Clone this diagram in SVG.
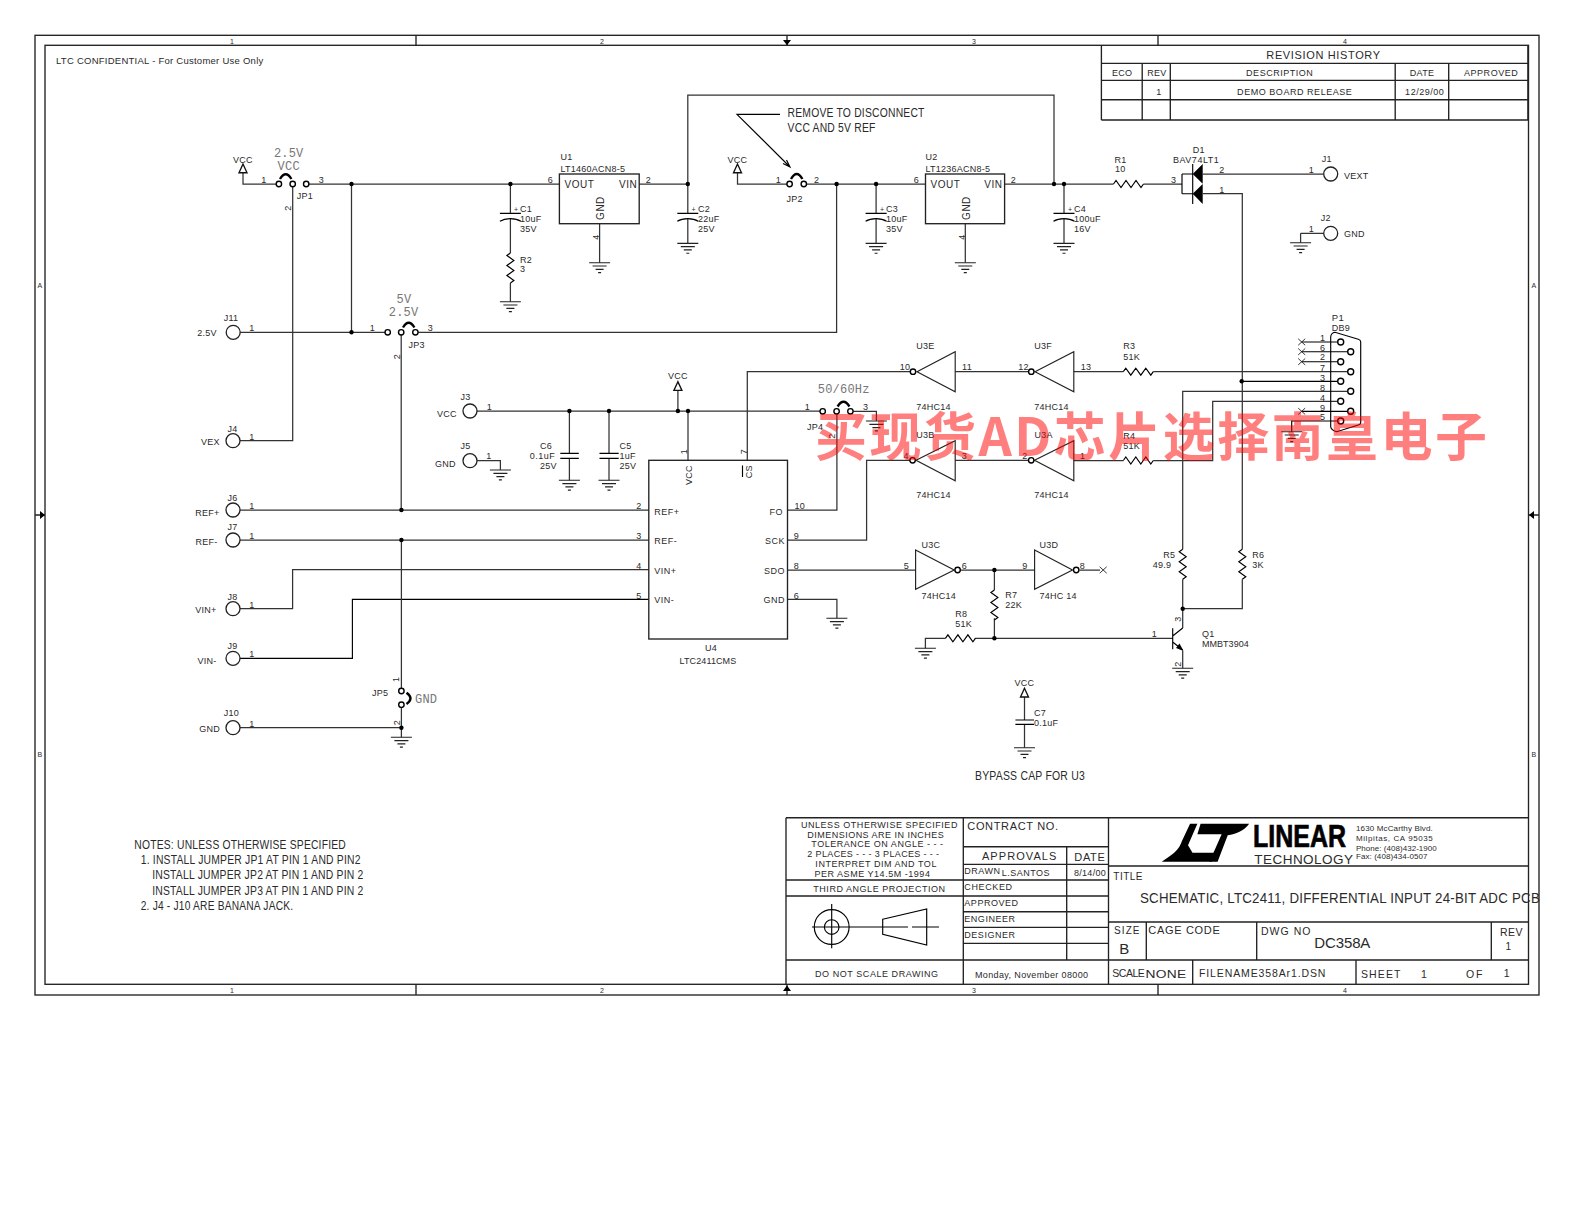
<svg xmlns="http://www.w3.org/2000/svg" xmlns:xlink="http://www.w3.org/1999/xlink" width="1584" height="1224" viewBox="0 0 1584 1224">
<style>
text{font-family:"Liberation Sans",Arial,sans-serif;font-size:9px;fill:#2a2a2a;letter-spacing:.25px}
.m{text-anchor:middle}
.e{text-anchor:end}
.w,.b{fill:none;stroke:#333;stroke-width:1.25}
.b{stroke:#222;stroke-width:1.35}
.g{fill:none;stroke:#222;stroke-width:1.15}
.k{fill:none;stroke:#000;stroke-width:1.15}
.x{fill:none;stroke:#222;stroke-width:.9}
.pc{fill:#fff;stroke:#000;stroke-width:1.4}
.jc{fill:#fff;stroke:#222;stroke-width:1.3}
.d{fill:#000}
.j{fill:none;stroke:#000;stroke-width:2.4}
.mono{font-family:"Liberation Mono","DejaVu Sans Mono",monospace;font-size:12px;fill:#777;letter-spacing:.2px}
.s8{font-size:7px}
.s10{font-size:10px;letter-spacing:.5px}
.s11{font-size:11px;letter-spacing:.6px}
.v{fill:#fff;stroke:#111;stroke-width:1.35}
.wm{font-family:"Noto Sans CJK SC","Liberation Sans",sans-serif;font-size:52px;font-weight:700;fill:#ff0000;fill-opacity:.5;letter-spacing:0}
</style>
<defs>
<g id="gnd"><path class="g" d="M-10.5 0H10.5M-7 3.3H7M-4 6.6H4M-1.5 9.9H1.5"/></g>
<g id="vcc"><path class="v" d="M0 0L-4 8.7H4Z"/></g>
<path id="rh" class="k" d="M0 0l2.5-3.5 5 7 5-7 5 7 5-7 5 7 2.5-3.5"/>
<path id="rv" class="k" d="M0 0l-3.5 2.5 7 5-7 5 7 5-7 5 7 5-3.5 2.5"/>
<path id="nc" class="x" d="M-3.5-3.2L3.5 3.2M-3.5 3.2L3.5-3.2"/>
<path id="pcap" class="k" d="M-10.5 0H10.5M-10.5 8C-5 4.5 5 4.5 10.5 8"/>
</defs>

<g id="frame">
<rect class="b" x="35" y="35.3" width="1504" height="959.7"/>
<rect class="b" x="45" y="45.3" width="1483.5" height="939"/>
<path class="b" d="M416 35.3V45.3M787 35.3V45.3M1158 35.3V45.3M416 984.3V995M787 984.3V995M1158 984.3V995M35 515H45M1528.5 515H1539"/>
<path class="d" d="M783 40L791 40L787 45.3ZM783 991L791 991L787 985.5ZM40 511L40 519L45 515ZM1534 511L1534 519L1529 515Z"/>
<text class="s8 m" x="232" y="43.5">1</text><text class="s8 m" x="602" y="43.5">2</text><text class="s8 m" x="974" y="43.5">3</text><text class="s8 m" x="1345" y="43.5">4</text>
<text class="s8 m" x="232" y="993">1</text><text class="s8 m" x="602" y="993">2</text><text class="s8 m" x="974" y="993">3</text><text class="s8 m" x="1345" y="993">4</text>
<text class="s8 m" x="40" y="288">A</text><text class="s8 m" x="40" y="757">B</text><text class="s8 m" x="1534" y="288">A</text><text class="s8 m" x="1534" y="757">B</text>
<text x="56" y="64" textLength="207.5" style="font-size:9.5px">LTC CONFIDENTIAL - For Customer Use Only</text>
</g>

<g id="revision-history">
<path class="b" d="M1101.4 45.3V120M1142.2 63.3V120M1170.3 63.3V120M1395.2 63.3V120M1448.7 63.3V120M1527.9 45.3V120M1101.4 63.3H1527.9M1101.4 80.3H1527.9M1101.4 99.7H1527.9M1101.4 120H1527.9"/>
<text class="m" x="1323.3" y="59.3" textLength="114" style="font-size:11px">REVISION HISTORY</text>
<text class="m" x="1122.2" y="76">ECO</text><text class="m" x="1157" y="76">REV</text><text class="m" x="1279.6" y="76" textLength="67">DESCRIPTION</text><text class="m" x="1422" y="76">DATE</text><text class="m" x="1491" y="76" textLength="54">APPROVED</text>
<text class="m" x="1159" y="94.7">1</text><text class="m" x="1294.6" y="94.7" textLength="115">DEMO BOARD RELEASE</text><text class="m" x="1424.6" y="94.7" textLength="39">12/29/00</text>
</g>

<g id="connectors">
<path class="w" d="M243 172.7V184H276.5M309 184H559.4M292.7 186.5V440.7H240M351.5 184V332.3M240 332.3H385M418.2 332.3H836.6V184M401.2 335V510"/>
<path class="w" d="M510.4 184V213.3M510.4 219V253M510.4 283V301.7M599.6 223.7V262.7M639.2 184H687.8M687.8 184V213.3M687.8 219V243.3"/>
<path class="w" d="M687.8 184V95H1054V184"/>
<path class="w" d="M737.5 172.7V184H787M806.5 184H925.5M876.1 184V213.3M876.1 219V243.3M965.3 223.7V262.7M1004.6 184H1113.5M1143.5 184H1182M1064 184V213.3M1064 219V243.3"/>
<path class="w" d="M1202.7 174H1323.7M1202.7 193.7H1242.3V549.3M1242.3 579.3V608.7H1182.7M1300.6 233.3H1323.7M1300.6 233.3V242.7"/>
<path class="w" d="M477 411H820M569.4 411V453.3M569.4 458.3V480.3M609 411V453.3M609 458.3V480.3M677.9 411V390M688 411V460.3M853 411.3H876.4V421M477 460.7H500.4V470"/>
<path class="w" d="M747.3 460.3V371.7H910M955.2 371.7H1028M1073.8 371.7H1123.3M1153.3 371.7H1347.7"/>
<path class="k" d="M1241.7 381.3H1337.7"/>
<path class="w" d="M1347.7 391.3H1182.7V549.3M1182.7 579.3V628M1337.7 401.3H1212.7V460.5H1153.3M1123.3 460.5H1073.8M1028 460.3H955.2M910 460.3H866.6V540H787.5"/>
<path class="w" d="M787.5 510H836.9V414M787.5 570H915.6M961 570H1034.6M1079.5 570H1100M787.5 599.3H836.9V618.3"/>
<path class="w" d="M994.4 570V590M994.4 618.3V638.3M925.4 648.3V638.3H945.4M974.8 638.3H1172.7M1182.7 651V668.3"/>
<path class="w" d="M240 510H648.8M240 540H648.8M240 608.7H292.6V569.7H648.8"/>
<path class="k" d="M240 658.3H352.4V599.3H648.8"/>
<path class="w" d="M401.4 540V688M401.4 707.7V737.3M240 727.7H401.4"/>
<path class="w" d="M1024.5 696.7V720M1024.5 724.3V747.7"/>
<path class="k" d="M1301.5 342H1337.7M1301.5 351.7H1347.7M1301.5 361.7H1337.7M1301.5 411.3H1347.7M1291.7 431.7V421H1337.7"/>
<g class="d">
<circle cx="351.5" cy="184" r="2.2"/><circle cx="510.4" cy="184" r="2.2"/><circle cx="687.8" cy="184" r="2.2"/><circle cx="836.6" cy="184" r="2.2"/><circle cx="876.1" cy="184" r="2.2"/><circle cx="1054" cy="184" r="2.2"/><circle cx="1064" cy="184" r="2.2"/>
<circle cx="351.5" cy="332.3" r="2.2"/><circle cx="401.4" cy="510" r="2.2"/><circle cx="401.4" cy="540" r="2.2"/><circle cx="401.4" cy="727.7" r="2.2"/>
<circle cx="569.4" cy="411" r="2.2"/><circle cx="609" cy="411" r="2.2"/><circle cx="677.9" cy="411" r="2.2"/><circle cx="688" cy="411" r="2.2"/>
<circle cx="1241.7" cy="381.3" r="2.2"/><circle cx="994.4" cy="570" r="2.2"/><circle cx="994.4" cy="638.3" r="2.2"/><circle cx="1182.7" cy="608.7" r="2.2"/>
</g>
</g>

<g id="VCC1"><use xlink:href="#vcc" href="#vcc" x="243" y="164"/><text class="m" x="243" y="163">VCC</text></g>
<g id="JP1"><circle class="pc" cx="278.9" cy="184" r="2.7"/><circle class="pc" cx="292.7" cy="184" r="2.7"/><circle class="pc" cx="306.2" cy="184" r="2.7"/><path class="j" d="M280 179Q285.7 169.5 291.4 179"/>
<text class="mono m" x="288.7" y="156.7">2.5V</text><text class="mono m" x="288.7" y="169.7">VCC</text><text x="296.8" y="199">JP1</text><text class="m" x="264" y="183">1</text><text class="m" x="321.4" y="183">3</text><text class="m" transform="rotate(-90 291 208)" x="291" y="208">2</text></g>
<g id="JP3"><circle class="pc" cx="387.7" cy="332.3" r="2.7"/><circle class="pc" cx="401.2" cy="332.3" r="2.7"/><circle class="pc" cx="415.4" cy="332.3" r="2.7"/><path class="j" d="M403 327.5Q408.7 318 414.4 327.5"/>
<text class="mono m" x="404" y="302.7">5V</text><text class="mono m" x="403.6" y="316">2.5V</text><text x="408.6" y="348">JP3</text><text class="m" x="372.5" y="331">1</text><text class="m" x="430.3" y="331">3</text><text class="m" transform="rotate(-90 400 356.7)" x="400" y="356.7">2</text></g>

<g id="C1"><use xlink:href="#pcap" href="#pcap" x="510.4" y="213.3"/><text class="s8" x="514" y="212">+</text><text x="520" y="211.7">C1</text><text x="520" y="221.7">10uF</text><text x="520" y="231.7">35V</text></g>
<g id="R2"><use xlink:href="#rv" href="#rv" x="510.4" y="253"/><text x="520" y="263">R2</text><text x="520" y="272">3</text><use xlink:href="#gnd" href="#gnd" x="510.4" y="301.7"/></g>
<g id="U1"><rect class="b" x="559.4" y="174" width="79.8" height="49.7"/><text x="560.4" y="160">U1</text><text x="560.4" y="172">LT1460ACN8-5</text><text x="564.5" y="188" class="s10">VOUT</text><text x="619" y="188" class="s10">VIN</text><text class="m s10" transform="rotate(-90 603.5 208)" x="603.5" y="208">GND</text><text class="m" x="550.3" y="183">6</text><text class="m" x="648.3" y="183">2</text><text class="m" transform="rotate(-90 599 237)" x="599" y="237">4</text><use xlink:href="#gnd" href="#gnd" x="599.6" y="262.7"/></g>
<g id="C2"><use xlink:href="#pcap" href="#pcap" x="687.8" y="213.3"/><text class="s8" x="691.5" y="212">+</text><text x="698" y="211.7">C2</text><text x="698" y="221.7">22uF</text><text x="698" y="231.7">25V</text><use xlink:href="#gnd" href="#gnd" x="687.8" y="243.3"/></g>
<g id="note-jp2"><path class="k" d="M780 114.3H737L790 167M783 163.5L790 167L786.5 160"/><text x="787.6" y="116.7" textLength="137" lengthAdjust="spacingAndGlyphs" style="font-size:12.5px">REMOVE TO DISCONNECT</text><text x="787.6" y="131.7" textLength="88" lengthAdjust="spacingAndGlyphs" style="font-size:12.5px">VCC AND 5V REF</text></g>
<g id="VCC2"><use xlink:href="#vcc" href="#vcc" x="737.5" y="164"/><text class="m" x="737.5" y="162.7">VCC</text></g>
<g id="JP2"><circle class="pc" cx="789.6" cy="184" r="2.7"/><circle class="pc" cx="803.8" cy="184" r="2.7"/><path class="j" d="M791 179Q796.7 169 802.4 179"/><text x="786.5" y="201.7">JP2</text><text class="m" x="778.4" y="183">1</text><text class="m" x="816.6" y="183">2</text></g>
<g id="C3"><use xlink:href="#pcap" href="#pcap" x="876.1" y="213.3"/><text class="s8" x="880" y="212">+</text><text x="886" y="211.7">C3</text><text x="886" y="221.7">10uF</text><text x="886" y="231.7">35V</text><use xlink:href="#gnd" href="#gnd" x="876.1" y="243.3"/></g>
<g id="U2"><rect class="b" x="925.5" y="174" width="79.1" height="49.7"/><text x="925.5" y="160">U2</text><text x="925.5" y="172">LT1236ACN8-5</text><text x="930.5" y="188" class="s10">VOUT</text><text x="984.3" y="188" class="s10">VIN</text><text class="m s10" transform="rotate(-90 970 208)" x="970" y="208">GND</text><text class="m" x="916.3" y="183">6</text><text class="m" x="1013.3" y="183">2</text><text class="m" transform="rotate(-90 964.5 237)" x="964.5" y="237">4</text><use xlink:href="#gnd" href="#gnd" x="965.3" y="262.7"/></g>
<g id="C4"><use xlink:href="#pcap" href="#pcap" x="1064" y="213.3"/><text class="s8" x="1068" y="212">+</text><text x="1074" y="211.7">C4</text><text x="1074" y="221.7">100uF</text><text x="1074" y="231.7">16V</text><use xlink:href="#gnd" href="#gnd" x="1064" y="243.3"/></g>
<g id="R1"><use xlink:href="#rh" href="#rh" x="1113.5" y="184"/><text x="1114.5" y="162.7">R1</text><text x="1115" y="172">10</text></g>
<g id="D1"><path class="k" d="M1182 174V193.7M1182 174H1193M1182 193.7H1193M1192.7 164V204"/><path d="M1192.7 174L1202.7 164V183.7ZM1192.7 193.7L1202.7 184V204Z"/><text class="m" x="1198.7" y="152.7">D1</text><text x="1173" y="162.7" textLength="46">BAV74LT1</text><text class="m" x="1173.6" y="183">3</text><text class="m" x="1221.8" y="173">2</text><text class="m" x="1221.8" y="193">1</text></g>
<g id="J1"><circle class="jc" cx="1330.7" cy="174" r="7"/><text class="m" x="1326.7" y="161.7">J1</text><text x="1344" y="178.7">VEXT</text><text class="m" x="1311.3" y="173">1</text></g>
<g id="J2"><circle class="jc" cx="1330.7" cy="233.3" r="7"/><text class="m" x="1325.7" y="220.7">J2</text><text x="1344" y="236.7">GND</text><text class="m" x="1311.3" y="232">1</text><use xlink:href="#gnd" href="#gnd" x="1300.6" y="242.7"/></g>

<g id="J11"><circle class="jc" cx="233.2" cy="332.3" r="7"/><text class="m" x="231" y="320.7">J11</text><text class="m" x="207" y="335.7">2.5V</text><text class="m" x="252" y="331">1</text></g>
<g id="J4"><circle class="jc" cx="233" cy="440.7" r="7"/><text class="m" x="232.4" y="432">J4</text><text class="m" x="210.4" y="445">VEX</text><text class="m" x="252" y="440">1</text></g>
<g id="J6"><circle class="jc" cx="233" cy="510" r="7"/><text class="m" x="232.4" y="500.7">J6</text><text class="m" x="207.4" y="515.7">REF+</text><text class="m" x="252" y="509">1</text></g>
<g id="J7"><circle class="jc" cx="233" cy="540" r="7"/><text class="m" x="232.4" y="530">J7</text><text class="m" x="206.4" y="545">REF-</text><text class="m" x="252" y="539">1</text></g>
<g id="J8"><circle class="jc" cx="233" cy="608.7" r="7"/><text class="m" x="232.4" y="600">J8</text><text class="m" x="206" y="612.7">VIN+</text><text class="m" x="252" y="608">1</text></g>
<g id="J9"><circle class="jc" cx="233" cy="658.3" r="7"/><text class="m" x="232.4" y="649">J9</text><text class="m" x="207" y="664">VIN-</text><text class="m" x="252" y="657">1</text></g>
<g id="J10"><circle class="jc" cx="233" cy="727.7" r="7"/><text class="m" x="231.4" y="716">J10</text><text class="m" x="209.7" y="731.7">GND</text><text class="m" x="252" y="727">1</text></g>
<g id="JP5"><circle class="pc" cx="401.4" cy="691" r="2.7"/><circle class="pc" cx="401.4" cy="704.7" r="2.7"/><path class="j" d="M406.5 692.7Q414.5 698.3 406.5 704"/><text x="372" y="695.7">JP5</text><text class="mono" x="415" y="702.7">GND</text><text class="m" transform="rotate(-90 399 679.3)" x="399" y="679.3">1</text><text class="m" transform="rotate(-90 400 722.7)" x="400" y="722.7">2</text><use xlink:href="#gnd" href="#gnd" x="401.4" y="737.3"/></g>

<g id="J3"><circle class="jc" cx="470" cy="411" r="7"/><text class="m" x="465.6" y="400">J3</text><text class="m" x="447" y="416.7">VCC</text><text class="m" x="489.3" y="410">1</text></g>
<g id="J5"><circle class="jc" cx="470" cy="460.7" r="7"/><text class="m" x="465.6" y="449.3">J5</text><text class="m" x="445.3" y="466.7">GND</text><text class="m" x="489" y="459">1</text><use xlink:href="#gnd" href="#gnd" x="500.4" y="470"/></g>
<g id="C6"><path class="k" d="M560.3 453.3H578.8M560.3 458.3H578.8"/><text class="m" x="546" y="448.7">C6</text><text x="529.8" y="458.7" class="s10" style="font-size:9px">0.1uF</text><text x="540" y="468.7">25V</text><use xlink:href="#gnd" href="#gnd" x="569.4" y="480.3"/></g>
<g id="C5"><path class="k" d="M599.5 453.3H618.7M599.5 458.3H618.7"/><text x="619.4" y="448.7">C5</text><text x="619.4" y="458.7">1uF</text><text x="619.4" y="468.7">25V</text><use xlink:href="#gnd" href="#gnd" x="609" y="480.3"/></g>
<g id="VCC3"><use xlink:href="#vcc" href="#vcc" x="677.9" y="381.7"/><text class="m" x="677.9" y="379.3">VCC</text></g>
<g id="U4"><rect class="b" x="648.8" y="460.3" width="138.7" height="178.7"/>
<text class="m" x="711" y="651">U4</text><text class="m" x="708" y="664" textLength="57">LTC2411CMS</text>
<text x="654.2" y="515" class="s10" style="font-size:9px">REF+</text><text x="654.2" y="544" class="s10" style="font-size:9px">REF-</text><text x="654.2" y="574" class="s10" style="font-size:9px">VIN+</text><text x="654.2" y="603.3" class="s10" style="font-size:9px">VIN-</text>
<text class="e s10" style="font-size:9px" x="783" y="515">FO</text><text class="e s10" style="font-size:9px" x="785" y="544">SCK</text><text class="e s10" style="font-size:9px" x="785" y="574">SDO</text><text class="e s10" style="font-size:9px" x="785" y="603">GND</text>
<text class="m" transform="rotate(-90 692 475)" x="692" y="475">VCC</text><text class="m" transform="rotate(-90 752 471.7)" x="752" y="471.7">CS</text><path class="k" d="M742.5 465.5V477"/>
<text class="m" transform="rotate(-90 687 451.7)" x="687" y="451.7">1</text><text class="m" transform="rotate(-90 747 451.7)" x="747" y="451.7">7</text>
<text class="m" x="639" y="509">2</text><text class="m" x="639" y="539">3</text><text class="m" x="639" y="569">4</text><text class="m" x="639" y="598.5">5</text>
<text x="794.6" y="509">10</text><text class="m" x="796.3" y="539">9</text><text class="m" x="796.3" y="569">8</text><text class="m" x="796.3" y="598.5">6</text></g>
<g id="GND-U4"><use xlink:href="#gnd" href="#gnd" x="836.9" y="618.3"/></g>
<g id="JP4"><circle class="pc" cx="822.7" cy="411.3" r="2.7"/><circle class="pc" cx="836.6" cy="411.3" r="2.7"/><circle class="pc" cx="850.4" cy="411.3" r="2.7"/><path class="j" d="M837.6 406.5Q843.5 397 849.4 406.5"/><text class="mono m" x="843.7" y="393.3">50/60Hz</text><text x="807" y="430">JP4</text><text class="m" x="807.5" y="410">1</text><text class="m" x="865.6" y="410">3</text><text class="m" transform="rotate(-90 835 436)" x="835" y="436">2</text><use xlink:href="#gnd" href="#gnd" x="876.4" y="421"/></g>
<g id="U3E"><path class="g" d="M917 371.7L955.2 351.7V391.7Z"/><circle class="pc" cx="913" cy="371.7" r="2.7"/><text x="916.3" y="349">U3E</text><text x="916.3" y="410">74HC14</text><text class="m" x="905" y="370">10</text><text class="m" x="967" y="370">11</text></g>
<g id="U3F"><path class="g" d="M1035 371.7L1073.8 351.7V391.7Z"/><circle class="pc" cx="1031.3" cy="371.7" r="2.7"/><text x="1034.3" y="349">U3F</text><text x="1034.3" y="410">74HC14</text><text class="m" x="1023.5" y="370">12</text><text class="m" x="1086" y="370">13</text></g>
<g id="U3B"><path class="g" d="M916 460.3L955.2 440.7V480.7Z"/><circle class="pc" cx="912.6" cy="460.3" r="2.7"/><text x="916.3" y="437.7">U3B</text><text x="916.3" y="498.3">74HC14</text><text class="m" x="906.2" y="459">4</text><text class="m" x="964.3" y="459">3</text></g>
<g id="U3A"><path class="g" d="M1034.5 460.3L1073.8 440.7V480.7Z"/><circle class="pc" cx="1031.2" cy="460.3" r="2.7"/><text x="1034.6" y="437.7">U3A</text><text x="1034.3" y="498.3">74HC14</text><text class="m" x="1025" y="459">2</text><text class="m" x="1082.6" y="459">1</text></g>
<g id="U3C"><path class="g" d="M915.6 550L954.2 570L915.6 589.3Z"/><circle class="pc" cx="957.6" cy="570" r="2.7"/><text x="921.4" y="548.3">U3C</text><text x="921.4" y="598.7">74HC14</text><text class="m" x="906.5" y="569">5</text><text class="m" x="964.3" y="569">6</text></g>
<g id="U3D"><path class="g" d="M1034.6 550L1072.5 570L1034.6 589.3Z"/><circle class="pc" cx="1076.2" cy="570" r="2.7"/><text x="1039.4" y="548.3">U3D</text><text x="1039.4" y="598.7">74HC 14</text><text class="m" x="1025" y="569">9</text><text class="m" x="1082.3" y="569">8</text><use xlink:href="#nc" href="#nc" x="1103.2" y="570"/></g>
<g id="R3"><use xlink:href="#rh" href="#rh" x="1123.3" y="371.7"/><text x="1123.3" y="349.3">R3</text><text x="1123.3" y="360">51K</text></g>
<g id="R4"><use xlink:href="#rh" href="#rh" x="1123.3" y="460.5"/><text x="1123.3" y="438.7">R4</text><text x="1123.3" y="448.7">51K</text></g>
<g id="R5"><use xlink:href="#rv" href="#rv" x="1182.7" y="549.3"/><text x="1163.3" y="558">R5</text><text x="1152.7" y="568">49.9</text></g>
<g id="R6"><use xlink:href="#rv" href="#rv" x="1242.3" y="549.3"/><text x="1252.3" y="558">R6</text><text x="1252.3" y="568">3K</text></g>
<g id="R7"><use xlink:href="#rv" href="#rv" x="994.4" y="590"/><text x="1005.2" y="598">R7</text><text x="1005.2" y="607.7">22K</text></g>
<g id="R8"><use xlink:href="#rh" href="#rh" x="945.4" y="638.3"/><text x="955.2" y="617">R8</text><text x="955.2" y="627">51K</text><use xlink:href="#gnd" href="#gnd" x="925.4" y="648.3"/></g>
<g id="Q1"><path class="k" d="M1172.7 628.3V649.3M1182.7 628L1172.7 636M1172.7 642L1182.7 650"/><path d="M1183.5 651L1176 648L1179.5 643.5Z"/><text x="1202" y="636.7">Q1</text><text x="1202" y="646.7" textLength="47">MMBT3904</text><text class="m" x="1154.4" y="637">1</text><text class="m" transform="rotate(-90 1181 619)" x="1181" y="619">3</text><text class="m" transform="rotate(-90 1181 664)" x="1181" y="664">2</text><use xlink:href="#gnd" href="#gnd" x="1182.7" y="668.3"/></g>
<g id="C7"><path class="k" d="M1015.4 720H1034M1015.4 724.3H1034"/><use xlink:href="#vcc" href="#vcc" x="1024.5" y="688.3"/><text class="m" x="1024.5" y="685.7">VCC</text><text x="1034" y="715.7">C7</text><text x="1034" y="725.7">0.1uF</text><use xlink:href="#gnd" href="#gnd" x="1024.5" y="747.7"/></g>
<g id="bypass-note"><text x="975" y="780" textLength="110" lengthAdjust="spacingAndGlyphs" style="font-size:12.5px">BYPASS CAP FOR U3</text></g>

<g id="P1"><path class="k" d="M1330.7 426.7V337Q1331 333 1335 332.3L1358.3 339.3Q1360.7 340 1360.7 342V422.7Q1360.7 424.5 1358.3 425L1336.7 431.7Q1331 430 1330.7 426.7Z"/>
<text x="1331.7" y="320.7" class="s10" style="font-size:9.5px">P1</text><text x="1331.7" y="330.7">DB9</text>
<g><circle class="pc" cx="1340.7" cy="342" r="3"/><circle class="pc" cx="1350.7" cy="351.7" r="3"/><circle class="pc" cx="1340.7" cy="361.7" r="3"/><circle class="pc" cx="1350.7" cy="371.7" r="3"/><circle class="pc" cx="1340.7" cy="381.3" r="3"/><circle class="pc" cx="1350.7" cy="391.3" r="3"/><circle class="pc" cx="1340.7" cy="401.3" r="3"/><circle class="pc" cx="1350.7" cy="411.3" r="3"/><circle class="pc" cx="1340.7" cy="421" r="3"/></g>
<g><use xlink:href="#nc" href="#nc" x="1301.7" y="342"/><use xlink:href="#nc" href="#nc" x="1301.7" y="351.7"/><use xlink:href="#nc" href="#nc" x="1301.7" y="361.7"/><use xlink:href="#nc" href="#nc" x="1301.7" y="411.3"/></g>
<text class="m" x="1322.7" y="341">1</text><text class="m" x="1322.7" y="351">6</text><text class="m" x="1322.7" y="360">2</text><text class="m" x="1322.7" y="371">7</text><text class="m" x="1322.7" y="381">3</text><text class="m" x="1322.7" y="391">8</text><text class="m" x="1322.7" y="401">4</text><text class="m" x="1322.7" y="411">9</text><text class="m" x="1322.7" y="420">5</text>
<use xlink:href="#gnd" href="#gnd" x="1291.7" y="431.7"/></g>

<g id="notes">
<text x="134.3" y="849" textLength="211.7" lengthAdjust="spacingAndGlyphs" style="font-size:12.5px">NOTES: UNLESS OTHERWISE SPECIFIED</text>
<text x="140.7" y="864" textLength="220" lengthAdjust="spacingAndGlyphs" style="font-size:12.5px">1. INSTALL JUMPER JP1 AT PIN 1 AND PIN2</text>
<text x="152.2" y="879.3" textLength="211.3" lengthAdjust="spacingAndGlyphs" style="font-size:12.5px">INSTALL JUMPER JP2 AT PIN 1 AND PIN 2</text>
<text x="152.2" y="895" textLength="211.3" lengthAdjust="spacingAndGlyphs" style="font-size:12.5px">INSTALL JUMPER JP3 AT PIN 1 AND PIN 2</text>
<text x="140.7" y="910" textLength="152.6" lengthAdjust="spacingAndGlyphs" style="font-size:12.5px">2. J4 - J10 ARE BANANA JACK.</text>
</g>

<g id="title-block">
<path class="b" d="M786 817.7H1528.5M786 817.7V984.3M963.3 817.7V984.3M1108.5 817.7V984.3M786 880H963.3M786 896H963.3M786 960H1528.5M963.3 846.7H1108.5M963.3 864.3H1108.5M963.3 880H1108.5M963.3 896H1108.5M963.3 911.7H1108.5M963.3 927.3H1108.5M963.3 943.3H1108.5M1066.7 846.7V960M1108.5 866H1528.5M1108.5 922H1528.5M1146.3 922V960M1256.7 922V960M1491.3 922V960M1192.7 960V984.3M1356 960V984.3"/>
<g class="m">
<text class="m" x="879.3" y="828.3" textLength="156.7">UNLESS OTHERWISE SPECIFIED</text>
<text class="m" x="875.7" y="837.7" textLength="136.7">DIMENSIONS ARE IN INCHES</text>
<text class="m" x="877.3" y="846.7" textLength="132">TOLERANCE ON ANGLE - - -</text>
<text class="m" x="873.3" y="856.7" textLength="132">2 PLACES - - - 3 PLACES - - -</text>
<text class="m" x="876" y="866.7" textLength="121.3">INTERPRET DIM AND TOL</text>
<text class="m" x="872.3" y="877" textLength="115.7">PER ASME Y14.5M -1994</text>
<text class="m" x="879.3" y="892" textLength="132">THIRD ANGLE PROJECTION</text>
<text class="m" x="876.7" y="976.7" textLength="123.3">DO NOT SCALE DRAWING</text>
</g>
<g id="projection"><circle class="k" cx="831.7" cy="927" r="17.4"/><circle class="k" cx="831.7" cy="927" r="7.3"/><path class="k" d="M812 927H892M831.7 904V948.3M882.7 919.3L926.7 909V945L882.7 934.3ZM892 927H902M893 927H908M912 927H939"/></g>
<text x="967.3" y="830" textLength="91" style="font-size:11px">CONTRACT NO.</text>
<text class="m" x="1019.3" y="860" textLength="74.7" style="font-size:11px">APPROVALS</text>
<text class="m" x="1089.7" y="861" textLength="30.7" style="font-size:11px">DATE</text>
<text x="964.3" y="874" textLength="36">DRAWN</text><text x="1001.7" y="876" textLength="48">L.SANTOS</text><text class="m" x="1090" y="876" textLength="32">8/14/00</text>
<text x="964.3" y="890" textLength="48">CHECKED</text><text x="964.3" y="906" textLength="54">APPROVED</text><text x="964.3" y="922" textLength="51">ENGINEER</text><text x="964.3" y="938" textLength="51">DESIGNER</text>
<text x="975" y="977.7" textLength="113.3">Monday, November 08000</text>
<text x="1113.3" y="880" class="s10">TITLE</text>
<text x="1140" y="903.3" textLength="400" lengthAdjust="spacingAndGlyphs" style="font-size:14px">SCHEMATIC, LTC2411, DIFFERENTIAL  INPUT 24-BIT ADC PCB</text>
<text x="1114" y="934" class="s10" textLength="26">SIZE</text><text x="1119.3" y="954" style="font-size:15px">B</text>
<text x="1148.3" y="934" textLength="71.7" style="font-size:11px">CAGE CODE</text>
<text x="1261" y="935" textLength="49.7" style="font-size:10.5px">DWG NO</text>
<text x="1314.3" y="948.3" textLength="56.3" style="font-size:15px">DC358A</text>
<text x="1500" y="936" textLength="22.7" style="font-size:10.5px">REV</text><text class="m" x="1508.3" y="950" style="font-size:10px">1</text>
<text x="1112.3" y="976.7" textLength="32.7" style="font-size:10.5px">SCALE</text><text x="1145.5" y="977.7" textLength="41" lengthAdjust="spacingAndGlyphs" style="font-size:11.5px">NONE</text>
<text x="1199" y="976.7" textLength="126.7" style="font-size:10.5px">FILENAME358Ar1.DSN</text>
<text x="1361" y="977.7" textLength="39.7" style="font-size:10.5px">SHEET</text><text class="m" x="1424" y="978.3" style="font-size:10.5px">1</text><text x="1466" y="978.3" textLength="16.7" style="font-size:10.5px">OF</text><text class="m" x="1506.7" y="976.7" style="font-size:10.5px">1</text>
</g>
<g id="logo">
<g transform="translate(1144.7 812.2) scale(.405 .442)"><path d="M112 26H130L107 75L118 92H175L165 112H42C70 95 85 85 92 65Z"/><path d="M138 26H258C245 42 225 50 205 52L180 112H160L190 50H130Z"/></g>
<text x="1253" y="846.7" textLength="93" lengthAdjust="spacingAndGlyphs" style="font-size:32px;font-weight:700;fill:#000;stroke:#000;stroke-width:.7;letter-spacing:0">LINEAR</text>
<text x="1254.3" y="864" textLength="99" style="font-size:13.5px">TECHNOLOGY</text>
<text x="1356" y="831" textLength="77" style="font-size:8px">1630 McCarthy Blvd.</text>
<text x="1356" y="841" textLength="77" style="font-size:8px">Milpitas, CA 95035</text>
<text x="1356" y="850.7" textLength="81" style="font-size:8px">Phone: (408)432-1900</text>
<text x="1356" y="859.3" textLength="71.7" style="font-size:8px">Fax: (408)434-0507</text>
</g>

<text id="watermark" class="wm" x="815" y="456" textLength="672">买现货AD芯片选择南皇电子</text>
</svg>
